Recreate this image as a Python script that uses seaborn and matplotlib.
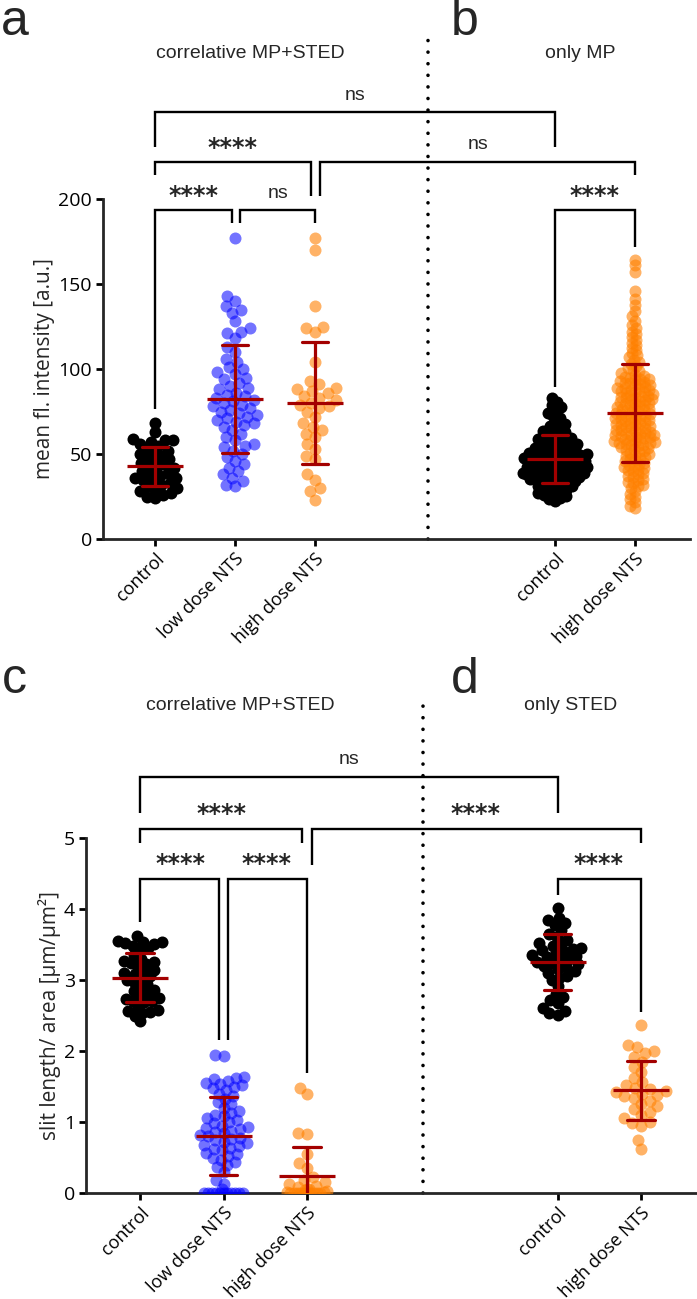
import matplotlib
matplotlib.use("Agg")
import matplotlib.pyplot as plt
import seaborn as sns
import pandas as pd

# x positions of the groups: correlative groups on the left, single-method groups on the right
left_pos = [0, 1, 2]
right_pos = [5, 6]
left_labels = ["control", "low dose NTS", "high dose NTS"]
right_labels = ["control", "high dose NTS"]

# panel a: correlative MP+STED, mean fl. intensity [a.u.]
a_control = [68, 63, 59, 58, 58, 57, 56, 55, 53, 52, 51, 50, 49, 48, 47, 46, 45, 44, 43, 42,
             41, 40, 39, 38, 37, 36, 36, 35, 34, 33, 32, 31, 30, 29, 28, 27, 26, 25, 24]
a_low = [177, 143, 140, 137, 135, 133, 128, 124, 122, 121, 118, 113, 110, 106, 104, 101, 100,
         98, 97, 95, 94, 92, 90, 89, 88, 86, 85, 84, 83, 82, 81, 80, 79, 78, 77, 76, 75, 74,
         73, 72, 71, 70, 69, 68, 67, 66, 64, 62, 60, 58, 56, 55, 54, 52, 50, 48, 46, 44, 42,
         40, 38, 36, 34, 32, 31]
a_high = [177, 170, 137, 125, 124, 122, 104, 93, 91, 89, 88, 87, 86, 84, 83, 82, 80, 79, 78,
          77, 75, 72, 68, 66, 64, 62, 60, 56, 53, 49, 47, 38, 35, 30, 28, 23]

# panel b: only MP
b_control = [82.8, 80.5, 79.0, 77.5, 76.0, 74.3, 72.6, 71.0, 69.2, 67.8, 66.5, 65.3,
             64.5, 63.6, 62.8, 61.9, 61.0, 60.3,
             59.6, 59.0, 58.4, 57.8, 57.2, 56.7, 56.1, 55.6, 55.2,
             54.6, 54.1, 53.7, 53.2, 52.7, 52.3, 51.8, 51.4, 50.9, 50.5, 50.1,
             49.9, 49.6, 49.2, 48.7, 48.5, 48.3, 47.8, 47.4, 47.1, 46.9, 46.5, 46.0, 45.9,
             45.6, 45.2,
             44.7, 44.3, 44.1, 43.8, 43.4, 42.9, 42.5, 42.2, 42.0, 41.6, 41.1, 40.9, 40.7,
             40.2,
             39.8, 39.3, 39.1, 38.9, 38.4, 38.0, 37.9, 37.5, 37.1, 36.6, 36.4, 36.2, 35.7,
             35.3,
             34.8, 34.3, 33.9, 33.4, 32.9, 32.4, 31.9, 31.4, 30.9, 30.4,
             29.8, 29.1, 28.5, 27.8, 27.1, 26.4, 25.7, 25.1,
             24.3, 23.4, 22.5]
b_high = [164.2, 161.0, 157.0, 146.0, 141.0, 137.5, 134.0, 131.0, 128.5, 126.0,
          124.0, 122.0, 120.5,
          118.8, 117.0, 115.5, 114.0, 112.5, 111.0,
          109.3, 108.0, 106.8, 105.5, 104.3, 103.0, 101.8, 100.5,
          99.4, 98.7, 97.4, 96.7, 96.0, 95.3, 94.7, 94.4, 94.0, 93.3, 93.1, 92.6, 92.0, 91.7,
          91.3, 90.6, 90.3,
          89.4, 89.1, 88.8, 88.2, 87.9, 87.6, 87.0, 86.5, 86.2, 85.9, 85.3, 84.7, 84.4, 84.1,
          83.5, 83.2, 82.9, 82.3, 81.8, 81.5, 81.2, 80.6, 80.0,
          79.9, 79.5, 78.9, 78.6, 78.2, 77.7, 77.1, 76.7, 76.4, 75.8, 75.6, 75.3, 74.6, 74.0,
          73.8, 73.5, 72.8, 72.5, 72.3, 71.7, 71.1, 70.9, 70.5, 70.1,
          69.9, 69.3, 68.7, 68.5, 68.2, 67.5, 67.0, 66.9, 66.4, 65.8, 65.5, 65.2, 64.8, 64.2,
          63.9, 63.4, 62.9, 62.5, 62.3, 61.7, 61.4, 61.1, 60.9, 60.7, 60.2,
          59.9, 59.5, 58.9, 58.5, 58.1, 57.6, 57.3, 57.1, 56.6, 56.4, 55.8, 55.5, 55.2, 54.8,
          54.0, 53.6, 52.8, 52.2, 51.9, 51.3, 50.7, 50.0,
          49.4, 48.8, 48.1, 47.5, 46.9, 46.3, 45.6, 45.0, 44.4, 43.8, 43.1, 42.5, 41.9, 41.3,
          40.6, 40.0,
          39.1, 38.2, 37.3, 36.4, 35.5, 34.6, 33.7, 32.8, 31.9, 31.0, 30.2,
          28.5, 26.5, 25.0, 23.5, 22.0, 19.5, 18.0]

# panel c: correlative MP+STED, slit length / area
c_control = [3.62, 3.55, 3.54, 3.53, 3.52, 3.51, 3.48, 3.45, 3.44, 3.35, 3.30, 3.27, 3.25,
             3.24, 3.22, 3.20, 3.14, 3.12, 3.10, 3.08, 3.05, 3.02, 3.00, 2.97, 2.95, 2.90,
             2.86, 2.84, 2.80, 2.78, 2.75, 2.73, 2.71, 2.70, 2.69, 2.62, 2.58, 2.56, 2.55,
             2.53, 2.50, 2.42]
c_low = [1.95, 1.93, 1.64, 1.62, 1.60, 1.58, 1.55, 1.53, 1.52, 1.50, 1.48, 1.45, 1.40, 1.37,
         1.33, 1.28, 1.25, 1.20, 1.15, 1.12, 1.10, 1.08, 1.05, 1.03, 1.00, 0.98, 0.95, 0.93,
         0.91, 0.90, 0.88, 0.86, 0.84, 0.82, 0.80, 0.78, 0.76, 0.74, 0.72, 0.70, 0.68, 0.66,
         0.64, 0.62, 0.60, 0.57, 0.55, 0.52, 0.50, 0.47, 0.44, 0.40, 0.37, 0.30, 0.18, 0.12,
         0.05, 0, 0, 0, 0, 0, 0, 0, 0, 0, 0, 0]
c_high = [1.48, 1.40, 0.85, 0.83, 0.55, 0.42, 0.35, 0.22, 0.18, 0.15, 0.12, 0.10, 0.08, 0.06,
          0.05, 0.04, 0.03, 0.02, 0.01, 0, 0, 0, 0, 0, 0, 0, 0, 0, 0]

# panel d: only STED
d_control = [4.01, 3.88, 3.85, 3.80, 3.78, 3.70, 3.65, 3.60, 3.57, 3.52, 3.50, 3.48, 3.45,
             3.42, 3.40, 3.38, 3.35, 3.33, 3.30, 3.28, 3.26, 3.24, 3.22, 3.20, 3.18, 3.15,
             3.12, 3.10, 3.06, 3.03, 3.00, 3.34, 2.92, 3.44, 2.80, 2.76, 2.72, 2.68, 2.60,
             2.57, 2.53, 2.51]
d_high = [2.36, 2.08, 2.05, 2.00, 1.97, 1.92, 1.85, 1.78, 1.70, 1.62, 1.56, 1.52, 1.48, 1.46,
          1.44, 1.42, 1.40, 1.38, 1.36, 1.34, 1.30, 1.26, 1.22, 1.18, 1.14, 1.10, 1.05, 1.00,
          0.98, 0.95, 0.74, 0.62]

BLACK = "#000000"
BLUE = "#0000FF"
ORANGE = "#FF8000"
RED = "#A30000"

W, H = 697, 1299
sns.set_style("ticks")
plt.rcParams["font.family"] = ["Open Sans", "DejaVu Sans"]
plt.rcParams["axes.linewidth"] = 2.0

fig = plt.figure(figsize=(W / 100, H / 100), dpi=100)


def px_axes(left, right, top, bottom):
    return fig.add_axes([left / W, 1 - bottom / H, (right - left) / W, (bottom - top) / H])


def swarm(ax, pos, values, color, alpha, layout_px, dot_px=12):
    # lay the swarm out with a smaller dot than is drawn, so points overlap as in GraphPad
    sns.swarmplot(x=[pos] * len(values), y=values, native_scale=True, orient="x",
                  color=color, alpha=alpha, size=layout_px * 0.72, linewidth=0,
                  warn_thresh=1, ax=ax)
    pts = ax.collections[-1]
    del pts.draw
    pts.set_sizes([(dot_px * 0.72) ** 2])


def swarm_with_floor(ax, pos, values, color, alpha, layout_px, floor_px, floor=0.05):
    # values sitting on the axis form one packed row, the rest a normal swarm
    swarm(ax, pos, [v for v in values if v > floor], color, alpha, layout_px)
    swarm(ax, pos, [v for v in values if v <= floor], color, alpha, floor_px)


def mean_sd(ax, groups):
    df = pd.DataFrame({
        "pos": [p for p, v in groups for _ in v],
        "value": [x for _, v in groups for x in v],
    })
    sns.pointplot(data=df, x="pos", y="value", native_scale=True, orient="x",
                  errorbar="sd", capsize=0.33, color=RED, marker="_", markersize=40,
                  markeredgewidth=2.3, linestyle="none", zorder=10,
                  err_kws={"linewidth": 2.3, "zorder": 10}, ax=ax)


def bracket(ax, x0, x1, y, y0, y1, label, lx, ly, stars):
    ax.plot([x0, x0, x1, x1], [y0, y, y, y1], color="black", lw=1.7, clip_on=False,
            solid_joinstyle="miter", solid_capstyle="butt")
    if stars:
        ax.text(lx, ly, label, ha="center", va="center", fontsize=17, fontweight="bold",
                family="DejaVu Sans", clip_on=False)
    else:
        ax.text(lx, ly, label, ha="center", va="center", fontsize=14,
                family="Liberation Sans", clip_on=False)


def style_axes(ax, yticks, ylabel):
    sns.despine(ax=ax)
    ax.set_yticks(yticks)
    ax.set_xticks(left_pos + right_pos)
    ax.set_xticklabels(left_labels + right_labels, rotation=45, ha="right", va="top",
                       rotation_mode="anchor", fontsize=13)
    ax.tick_params(width=2.0, length=5, colors="black", pad=3)
    ax.tick_params(axis="y", labelsize=14)
    ax.set_ylabel(ylabel, fontsize=15, labelpad=2)
    ax.set_xlabel("")


# ---- panels a / b ----
ax1 = px_axes(103, 690, 199, 539)
ax1.set_xlim(-0.65, 6.69)
ax1.set_ylim(0, 200)
swarm(ax1, 0, a_control, BLACK, 1.0, 8.0)
swarm(ax1, 1, a_low, BLUE, 0.55, 9.0)
swarm(ax1, 2, a_high, ORANGE, 0.6, 9.5)
swarm(ax1, 5, b_control, BLACK, 1.0, 6.0)
swarm(ax1, 6, b_high, ORANGE, 0.6, 5.0)
mean_sd(ax1, [(0, a_control), (1, a_low), (2, a_high), (5, b_control), (6, b_high)])
style_axes(ax1, [0, 50, 100, 150, 200], "mean fl. intensity [a.u.]")
ax1.plot([3.41, 3.41], [0, 295], color="black", lw=2.6, linestyle=(0, (0.01, 3.2)),
         dash_capstyle="round", clip_on=False)
bracket(ax1, 0, 5, 251, 230.6, 230.6, "ns", 2.5, 261, False)
bracket(ax1, 0, 1.95, 222, 214, 202, "****", 0.975, 230, True)
bracket(ax1, 2.06, 6, 222, 202, 214, "ns", 4.04, 232, False)
bracket(ax1, 0, 0.96, 193.5, 76.5, 186, "****", 0.48, 201.5, True)
bracket(ax1, 1.06, 2.0, 193.5, 186, 186, "ns", 1.54, 203.5, False)
bracket(ax1, 5, 6, 193.5, 89.4, 171.8, "****", 5.5, 201.5, True)

# ---- panels c / d ----
ax2 = px_axes(86, 697, 838, 1193)
ax2.set_xlim(-0.647, 6.67)
ax2.set_ylim(0, 5)
swarm(ax2, 0, c_control, BLACK, 1.0, 7.5)
swarm_with_floor(ax2, 1, c_low, BLUE, 0.55, 8.0, 3.7)
swarm_with_floor(ax2, 2, c_high, ORANGE, 0.6, 9.0, 3.2)
swarm(ax2, 5, d_control, BLACK, 1.0, 8.0)
swarm(ax2, 6, d_high, ORANGE, 0.6, 9.0)
mean_sd(ax2, [(0, c_control), (1, c_low), (2, c_high), (5, d_control), (6, d_high)])
style_axes(ax2, [0, 1, 2, 3, 4, 5], "slit length/ area [µm/µm²]")
ax2.plot([3.39, 3.39], [0, 6.94], color="black", lw=2.6, linestyle=(0, (0.01, 3.2)),
         dash_capstyle="round", clip_on=False)
bracket(ax2, 0, 5, 5.86, 5.35, 5.35, "ns", 2.5, 6.10, False)
bracket(ax2, 0, 1.94, 5.13, 4.93, 4.93, "****", 0.97, 5.34, True)
bracket(ax2, 2.06, 6, 5.13, 4.62, 4.93, "****", 4.02, 5.34, True)
bracket(ax2, 0, 0.95, 4.42, 3.82, 2.15, "****", 0.48, 4.63, True)
bracket(ax2, 1.05, 2.0, 4.42, 2.15, 1.69, "****", 1.52, 4.63, True)
bracket(ax2, 5, 6, 4.42, 4.20, 2.55, "****", 5.49, 4.63, True)

# ---- panel letters and headings ----
for letter, x, y in [("a", 1, 35), ("b", 451, 35), ("c", 2, 693), ("d", 451, 693)]:
    fig.text(x / W, 1 - y / H, letter, fontsize=36, family="Liberation Sans", va="baseline")
for text, x, y in [("correlative MP+STED", 250, 53), ("only MP", 580, 53),
                   ("correlative MP+STED", 240, 705), ("only STED", 571, 705)]:
    fig.text(x / W, 1 - y / H, text, fontsize=14, family="Liberation Sans",
             ha="center", va="center")

fig.savefig("out.png", dpi=100)
